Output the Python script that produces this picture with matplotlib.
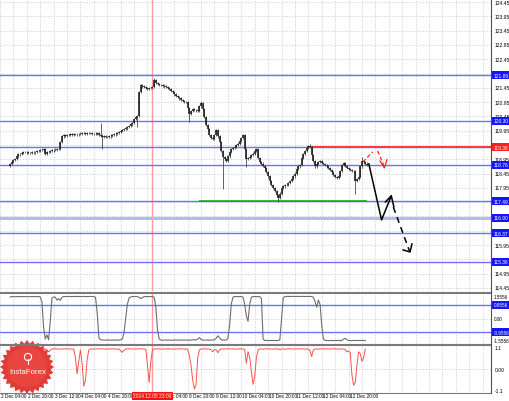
import matplotlib
import numpy as np

matplotlib.use('Agg')
import matplotlib.pyplot as plt
from matplotlib.patches import Polygon, Circle

plt.rcParams['font.family'] = ['Liberation Sans Narrow', 'Liberation Sans', 'DejaVu Sans']

# ---- data (hourly bars, index 0 = 2 Dec 00:00) ----
first_bar = 10
first_open = 118.72
closes = [
    # 2 Dec (10:00 - 23:00)
    118.79, 118.86, 118.93, 118.96, 119.05, 119.12, 119.14, 119.18, 119.20, 119.21, 119.19, 119.17, 119.17, 119.20,
    # 3 Dec
    119.19, 119.21, 119.24, 119.23, 119.27, 119.29, 119.31, 119.14, 119.20, 119.21, 119.24, 119.26,
    119.27, 119.29, 119.31, 119.32, 119.55, 119.75, 119.80, 119.78, 119.81, 119.80, 119.82, 119.81,
    # 4 Dec
    119.83, 119.84, 119.82, 119.83, 119.85, 119.86, 119.87, 119.85, 119.88, 119.87, 119.86, 119.84,
    119.83, 119.85, 119.87, 119.80, 119.78, 119.73, 119.75, 119.72, 119.73, 119.75, 119.78, 119.80,
    # 5 Dec
    119.82, 119.85, 119.87, 119.90, 119.93, 119.97, 120.00, 120.03, 120.08, 120.12, 120.17, 120.22,
    120.35, 120.43, 120.46, 121.30, 121.55, 121.50, 121.48, 121.44, 121.41, 121.45, 121.44, 121.48,
    # 8 Dec
    121.72, 121.62, 121.58, 121.56, 121.55, 121.53, 121.50, 121.48, 121.45, 121.40, 121.34, 121.30,
    121.22, 121.16, 121.12, 121.08, 121.02, 120.98, 120.96, 120.95, 120.75, 120.53, 120.65, 120.71,
    # 9 Dec
    120.68, 120.66, 120.64, 120.80, 120.92, 120.70, 120.43, 120.15, 120.00, 119.80, 119.70, 119.66,
    119.80, 119.97, 119.75, 119.55, 119.25, 119.03, 118.95, 118.89, 119.05, 119.20, 119.31, 119.35,
    # 10 Dec
    119.38, 119.45, 119.50, 119.60, 119.70, 119.80, 119.30, 118.96, 119.00, 119.03, 119.10, 119.15,
    119.25, 119.30, 119.00, 118.85, 118.80, 118.72, 118.65, 118.50, 118.35, 118.20, 118.05, 117.95,
    # 11 Dec
    117.85, 117.70, 117.60, 117.75, 117.95, 118.00, 118.05, 118.05, 118.12, 118.20, 118.26, 118.35,
    118.45, 118.61, 118.70, 118.75, 119.00, 119.14, 119.25, 119.35, 119.40, 119.38, 119.10, 118.89,
    # 12 Dec
    118.70, 118.80, 118.86, 118.90, 118.82, 118.79, 118.75, 118.70, 118.65, 118.58, 118.50, 118.40,
    118.33, 118.30, 118.36, 118.55, 118.75, 118.82, 118.72, 118.65, 118.61, 118.58, 118.55, 118.54,
    # 15 Dec
    118.19, 118.25, 118.33, 118.70, 118.89, 118.85, 118.80, 118.75,
]
long_highs = {64: 120.22, 88: 121.60, 96: 121.79, 124: 120.98, 149: 119.85, 189: 119.48, 220: 119.03}
long_lows = {31: 119.10, 65: 119.31, 86: 120.08, 117: 120.25, 137: 117.91, 151: 118.68,
             170: 117.47, 216: 117.74}

osc_grey = [
    1.52, 1.54, 1.55, 1.53, 1.55, 1.54, 1.55, 1.55, 1.54, 1.55, 1.55, 1.53, 1.55, 1.54,
    1.55, 1.55, 1.54, 1.55, 1.52, 1.20, -0.60, -1.45, -1.15, -1.50, -0.20, 1.45,
    1.52, 1.50, 1.30, 1.40, 1.28, 1.50, 1.55, 1.55, 1.55, 1.56, 1.55, 1.55,
    1.55, 1.55, 1.56, 1.55, 1.55, 1.55, 1.56, 1.55, 1.55, 1.55, 1.56, 1.55,
    1.54, 1.50, 0.40, -1.35, -1.50, -1.52, -1.52, -1.53, -1.52, -1.52, -1.53, -1.52,
    -1.52, -1.52, -1.53, -1.52, -1.50, -1.45, -1.00, 0.00, 1.00, 1.45, 1.52, 1.55,
    1.55, 1.55, 1.54, 1.50, 1.40, 1.48, 1.54, 1.55, 1.55, 1.55, 1.54, 1.55,
    1.50, 0.80, -0.80, -1.45, -1.52, -1.53, -1.53, -1.52, -1.53, -1.52, -1.53, -1.53,
    -1.52, -1.52, -1.53, -1.52, -1.53, -1.52, -1.52, -1.53, -1.52, -1.53, -1.52, -1.50,
    -1.50, -1.52, -1.45, -1.35, -1.48, -1.52, -1.53, -1.52, -1.52, -1.53, -1.52, -1.52,
    -1.50, -1.40, -1.22, -1.35, -1.50, -1.52, -1.53, -1.52, -1.40, -0.50, 1.00, 1.50,
    1.55, 1.55, 1.54, 1.55, 1.55, 1.52, 1.00, 0.20, -0.20, 1.00, 1.50, 1.55,
    1.55, 1.54, 1.55, 1.55, 1.40, -1.45, -1.55, -1.55, -1.56, -1.55, -1.55, -1.55,
    -1.55, -1.56, -1.55, -1.50, 0.00, 1.45, 1.55, 1.56, 1.56, 1.55, 1.56, 1.56,
    1.55, 1.56, 1.56, 1.55, 1.56, 1.56, 1.55, 1.56, 1.55, 1.56, 1.55, 1.50,
    1.20, 0.80, 1.30, 1.00, -0.50, -1.45, -1.55, -1.55, -1.56, -1.55, -1.55, -1.56,
    -1.55, -1.55, -1.55, -1.56, -1.55, -1.45, -1.40, -1.50, -1.55, -1.55, -1.56, -1.55,
    -1.55, -1.55, -1.56, -1.55, -1.55, -1.55, -1.55,
]

osc_red = [
    1.05, 1.06, 1.05, 1.04, 1.05, 1.05, 1.02, 0.90, 0.79, 0.95, 1.05, 1.05, 1.06, 1.05,
    1.05, 1.05, 1.06, 1.05, 1.05, 1.04, 1.05, 1.05, 1.00, 0.90, 0.98, 1.05,
    1.05, 1.06, 1.05, 1.05, 1.04, 1.05, 1.05, 1.06, 1.05, 1.05, 1.05, 1.04,
    1.05, 0.60, -0.26, 0.40, 1.00, 0.30, -0.90, -0.60, 0.50, 1.00, 1.05, 1.05,
    1.04, 1.05, 1.05, 1.06, 1.05, 1.05, 1.05, 1.04, 1.05, 1.05, 1.05, 1.06,
    1.05, 1.05, 1.04, 1.05, 0.95, 0.88, 0.98, 1.05, 1.05, 1.06, 1.05, 1.05,
    1.05, 1.04, 1.05, 1.05, 1.06, 1.05, 1.05, 1.04, 0.20, -0.70, 0.40, 1.00,
    1.05, 1.05, 1.06, 1.05, 1.05, 1.04, 1.05, 1.05, 1.06, 1.05, 1.05, 1.05,
    1.04, 1.05, 1.05, 1.06, 1.05, 1.05, 1.04, 1.05, 1.02, 0.70, 0.20, -0.60,
    -1.05, -0.80, 0.60, 1.00, 1.05, 1.05, 1.06, 1.05, 1.05, 1.04, 1.00, 0.90,
    1.02, 1.00, 0.85, 1.00, 1.05, 1.05, 1.04, 1.05, 1.06, 1.05, 1.05, 1.05,
    1.05, 1.04, 1.05, 1.06, 1.05, 1.05, 1.02, 0.30, 0.90, 0.60, -0.10, -0.80,
    -0.40, 0.60, 1.00, 1.05, 1.05, 1.04, 1.05, 1.06, 1.05, 1.05, 1.04, 1.05,
    1.05, 1.05, 1.06, 1.00, 1.05, 1.05, 1.04, 1.05, 1.05, 1.06, 1.05, 1.05,
    1.04, 1.05, 1.05, 1.06, 1.05, 1.05, 1.04, 1.05, 1.05, 0.95, 0.65, 1.00,
    1.05, 1.05, 1.04, 1.05, 1.05, 1.06, 1.05, 1.05, 1.04, 1.05, 1.05, 1.06,
    1.05, 1.05, 1.04, 1.05, 1.05, 1.05, 1.02, 0.90, 0.95, 0.85, -0.30, -0.85,
    -0.70, 0.20, 0.90, 0.80, 0.40, 0.60, 1.05,
]

price_ticks = [124.45, 123.95, 123.45, 122.95, 122.45, 121.95, 121.45, 120.95, 120.45, 119.95,
               119.45, 118.95, 118.45, 117.95, 117.45, 116.95, 116.45, 115.95, 115.45, 114.95, 114.45]
price_tick_labels = ['124.45', '123.95', '123.45', '122.95', '122.45', '', '121.45', '120.95', '120.45',
                     '119.95', '', '118.95', '118.45', '117.95', '', '', '', '115.95', '', '114.95', '114.45']
blue_levels = [121.89, 120.30, 119.38, 118.76, 117.49, 116.37, 115.36]
selected_level = 116.90
red_level = 119.38
red_level_start = 188
green_level = 117.49
green_span = (123, 223)

time_ticks = [4, 20, 36, 52, 68, 84, 100, 116, 132, 148, 164, 180, 196, 212]
time_labels = ['2 Dec 04:00', '2 Dec 20:00', '3 Dec 12:00', '4 Dec 04:00', '4 Dec 20:00',
               '5 Dec 12:00', '8 Dec 04:00', '8 Dec 20:00', '9 Dec 12:00', '10 Dec 04:00',
               '10 Dec 20:00', '11 Dec 12:00', '12 Dec 04:00', '12 Dec 20:00']
cursor_bar = 95
cursor_label = '2014.12.05 23:00'

osc_levels = [0.9556, -0.9556]
osc_labels = [(1.5556, '1.5556'), (0.0, '0.00'), (-1.5556, '-1.5556')]
red_osc_labels = [(1.1, '1.1'), (0.0, '0.00'), (-1.1, '-1.1')]

# forecast sketch drawn on the chart (bar index, price)
fc_solid = [(224.1, 118.79), (231.7, 116.83), (237.5, 117.67)]
fc_solid_head = [(234.0, 117.46), (237.5, 117.67), (239.0, 117.30)]
fc_dashed = [(238.7, 117.28), (248.5, 115.72)]
fc_dashed_head = [(244.6, 115.78), (248.7, 115.71), (249.8, 115.99)]
red_up = [(220.6, 118.86), (226.4, 119.21)]
red_down = [(229.4, 119.24), (233.4, 118.68)]
red_head = [(230.8, 118.89), (233.4, 118.65), (234.9, 118.93)]

# ---- layout (pixel geometry of the screenshot) ----
W, H = 510, 402
plot_right = 491
xmin, xmax = 9.6, 297.0

fig = plt.figure(figsize=(W / 100, H / 100), dpi=100)
fig.patch.set_facecolor('white')


def add_panel(top, bottom):
    return fig.add_axes([0, 1 - bottom / H, plot_right / W, (bottom - top) / H])


ax = add_panel(0, 292)
ax1 = add_panel(294, 345)
ax2 = add_panel(346, 393)

grid_kw = dict(color='#c8c8c8', lw=0.5, ls=(0, (2, 2)))
vgrid = np.arange(4, 300, 8)
for a in (ax, ax1, ax2):
    a.set_xlim(xmin, xmax)
    for s in a.spines.values():
        s.set_visible(False)
    a.set_xticks(vgrid)
    a.tick_params(axis='both', length=0, labelbottom=False, labelleft=False)
    a.grid(True, axis='x', **grid_kw)
    a.axvline(cursor_bar, color='#ff9c9c', lw=1.0, zorder=1)

ylab = dict(fontsize=3.6, va='center', ha='left', clip_on=False)

# ---- main price panel ----
ax.set_ylim(114.345, 124.555)
ax.set_yticks(price_ticks)
ax.grid(True, axis='y', **grid_kw)
ytr = ax.get_yaxis_transform()
for v, t in zip(price_ticks, price_tick_labels):
    if t:
        ax.text(1.008, v, t, transform=ytr, **ylab)

bars = np.arange(first_bar, first_bar + len(closes))
c = np.array(closes)
o = np.r_[first_open, c[:-1]]
hi = np.maximum(o, c) + 0.04
lo = np.minimum(o, c) - 0.04
for k, v in long_highs.items():
    hi[k - first_bar] = v
for k, v in long_lows.items():
    lo[k - first_bar] = v
ax.vlines(bars, lo, hi, color='#4a4a4a', lw=0.6, zorder=4)
ax.vlines(bars, np.minimum(o, c), np.maximum(o, c), color='#222222', lw=1.2, zorder=4)

for lv in blue_levels:
    ax.axhline(lv, color='#7070ff', lw=1.0, zorder=2)
ax.axhline(selected_level, color='#b8b8f4', lw=2.2, zorder=2)
ax.hlines(red_level, red_level_start, xmax, color='#ff3030', lw=1.3, zorder=3)
ax.hlines(green_level, green_span[0], green_span[1], color='#00b000', lw=1.1, zorder=3)

lbl_kw = dict(fontsize=3.5, color='white', va='center', ha='left', clip_on=False, zorder=6)
for lv in blue_levels + [selected_level]:
    col = '#ff2020' if lv == red_level else '#1414ff'
    ax.text(1.006, lv, f'{lv:.2f}', transform=ytr,
            bbox=dict(boxstyle='square,pad=0.3', fc=col, ec='none'), **lbl_kw)

# forecast sketch
xs, ys = zip(*fc_solid)
ax.plot(xs, ys, color='black', lw=1.1, zorder=5)
xs, ys = zip(*fc_solid_head)
ax.plot(xs, ys, color='black', lw=1.1, zorder=5)
xs, ys = zip(*fc_dashed)
ax.plot(xs, ys, color='black', lw=1.1, ls=(0, (4, 3)), zorder=5)
xs, ys = zip(*fc_dashed_head)
ax.plot(xs, ys, color='black', lw=1.1, zorder=5)
for seg in (red_up, red_down):
    xs, ys = zip(*seg)
    ax.plot(xs, ys, color='#ff2020', lw=0.9, ls=(0, (3, 2)), zorder=5)
xs, ys = zip(*red_head)
ax.plot(xs, ys, color='#ff2020', lw=0.9, zorder=5)

# ---- oscillator 1 ----
ax1.set_ylim(-1.80, 1.80)
ax1.set_yticks([0.0])
ax1.grid(True, axis='y', **grid_kw)
ax1.plot(bars[:len(osc_grey)], osc_grey, color='#6e6e6e', lw=0.8, zorder=3)
y1tr = ax1.get_yaxis_transform()
for lv in osc_levels:
    ax1.axhline(lv, color='#7070ff', lw=1.0, zorder=2)
    ax1.text(1.005, lv, f'{lv:.4f}', transform=y1tr,
             bbox=dict(boxstyle='square,pad=0.25', fc='#1414ff', ec='none'),
             **{**lbl_kw, 'fontsize': 3.3})
for v, t in osc_labels:
    ax1.text(1.006, v, t, transform=y1tr, **{**ylab, 'fontsize': 3.3})

# ---- oscillator 2 ----
ax2.set_ylim(-1.204, 1.257)
ax2.set_yticks([0.0])
ax2.grid(True, axis='y', **grid_kw)
ax2.plot(bars[:len(osc_red)], osc_red, color='#ff5050', lw=0.7, zorder=3)
y2tr = ax2.get_yaxis_transform()
for v, t in red_osc_labels:
    ax2.text(1.008, v, t, transform=y2tr, **ylab)

# time axis
xtr = ax2.get_xaxis_transform()
for pos, t in zip(time_ticks, time_labels):
    ax2.text(pos + 0.6, -0.085, t, transform=xtr, fontsize=3.4, ha='left', va='center', clip_on=False)
ax2.text(cursor_bar, -0.085, cursor_label, transform=xtr, fontsize=3.5, color='white',
         ha='center', va='center', clip_on=False, zorder=8,
         bbox=dict(boxstyle='square,pad=0.35', fc='#ff1010', ec='none'))

# ---- frame, separators and logo in screen pixels ----
ov = fig.add_axes([0, 0, 1, 1], zorder=20)
ov.set_xlim(0, W)
ov.set_ylim(H, 0)
ov.axis('off')
ov.patch.set_alpha(0)
ov.plot([0, plot_right], [293.5, 293.5], color='#7a7a7a', lw=1.5)
ov.plot([0, plot_right], [345.5, 345.5], color='#7a7a7a', lw=1.5)
ov.plot([0, plot_right], [393.5, 393.5], color='#7a7a7a', lw=0.8)
ov.plot([plot_right + 0.5, plot_right + 0.5], [0, 393.5], color='#505050', lw=0.8)

cx, cy = 27, 368
ang = np.linspace(0, 2 * np.pi, 57)[:-1]
rad = np.where(np.arange(56) % 2 == 0, 27, 23.5)
star = np.c_[cx + rad * np.cos(ang), cy + rad * np.sin(ang)]
ov.add_patch(Polygon(star, closed=True, fc='#e2302c', ec='none', alpha=0.95))
ov.add_patch(Circle((cx, cy), 20, fc='#e8473f', ec='none', alpha=0.9))
ov.add_patch(Circle((cx + 1, cy - 10), 3.6, fc='none', ec='white', lw=0.8))
ov.plot([cx + 1, cx + 1], [cy - 8, cy - 3], color='white', lw=0.8)
ov.text(cx + 1, cy + 5, 'InstaForex', color='white', fontsize=5.6, ha='center', va='center',
        family=['Liberation Sans', 'DejaVu Sans'])

fig.savefig('out.png', dpi=100)
